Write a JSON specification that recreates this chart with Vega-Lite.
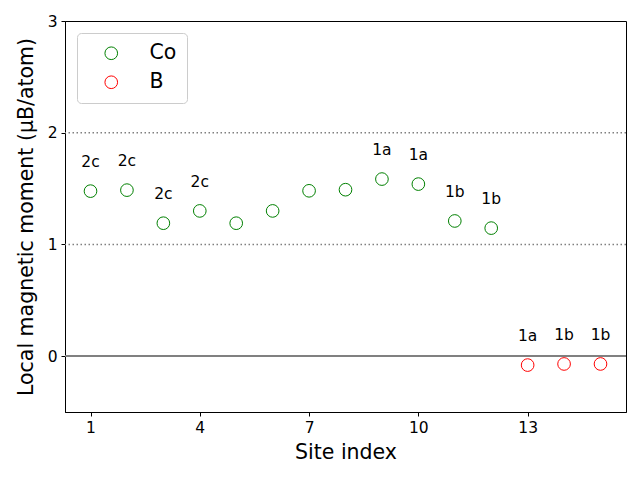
{
  "$schema": "https://vega.github.io/schema/vega-lite/v6.json",
  "width": 561,
  "height": 391,
  "autosize": {"type": "none"},
  "padding": {"left": 65, "top": 21, "right": 14, "bottom": 68},
  "background": "white",
  "config": {
    "font": "DejaVu Sans",
    "view": {"stroke": "black", "strokeWidth": 1},
    "axis": {"grid": false, "domainColor": "black", "tickColor": "black", "labelColor": "black", "titleColor": "black", "labelFontSize": 15.5, "titleFontSize": 20.5, "titleFontWeight": "normal", "tickSize": 4, "labelPadding": 4, "labelFont": "DejaVu Sans", "titleFont": "DejaVu Sans"}
  },
  "data": {
    "values": [
      {"site": 1, "moment": 1.477, "element": "Co", "label": "2c"},
      {"site": 2, "moment": 1.486, "element": "Co", "label": "2c"},
      {"site": 3, "moment": 1.19, "element": "Co", "label": "2c"},
      {"site": 4, "moment": 1.30, "element": "Co", "label": "2c"},
      {"site": 5, "moment": 1.19, "element": "Co", "label": ""},
      {"site": 6, "moment": 1.30, "element": "Co", "label": ""},
      {"site": 7, "moment": 1.48, "element": "Co", "label": ""},
      {"site": 8, "moment": 1.49, "element": "Co", "label": ""},
      {"site": 9, "moment": 1.585, "element": "Co", "label": "1a"},
      {"site": 10, "moment": 1.54, "element": "Co", "label": "1a"},
      {"site": 11, "moment": 1.21, "element": "Co", "label": "1b"},
      {"site": 12, "moment": 1.146, "element": "Co", "label": "1b"},
      {"site": 13, "moment": -0.08, "element": "B", "label": "1a"},
      {"site": 14, "moment": -0.07, "element": "B", "label": "1b"},
      {"site": 15, "moment": -0.07, "element": "B", "label": "1b"}
    ]
  },
  "layer": [
    {
      "mark": {"type": "rule", "color": "#808080", "strokeWidth": 1.5, "strokeDash": [1.5, 2.5]},
      "data": {"values": [{"v": 1}, {"v": 2}]},
      "encoding": {"y": {"field": "v", "type": "quantitative"}}
    },
    {
      "mark": {"type": "rule", "color": "#808080", "strokeWidth": 1.5},
      "encoding": {"y": {"datum": 0, "type": "quantitative"}}
    },
    {
      "mark": {"type": "point", "shape": "circle", "filled": false, "size": 160, "strokeWidth": 1, "opacity": 1},
      "encoding": {
        "x": {"field": "site", "type": "quantitative", "scale": {"domain": [0.3, 15.7], "nice": false, "zero": false},
              "axis": {"values": [1, 4, 7, 10, 13], "format": "d", "title": "Site index", "titlePadding": 7}},
        "y": {"field": "moment", "type": "quantitative", "scale": {"domain": [-0.5, 3], "nice": false},
              "axis": {"values": [0, 1, 2, 3], "format": "d", "title": "Local magnetic moment (μB/atom)", "titlePadding": 11}},
        "color": {"field": "element", "type": "nominal",
                  "scale": {"domain": ["Co", "B"], "range": ["#008000", "#ff0000"]},
                  "legend": {"title": null, "orient": "none", "legendX": 12, "legendY": 12, "symbolType": "circle", "symbolSize": 160, "symbolStrokeWidth": 1, "symbolFillColor": "transparent", "labelFontSize": 20.5, "labelFont": "DejaVu Sans", "labelColor": "black", "labelOffset": 28, "rowPadding": 8, "padding": 10, "strokeColor": "#cccccc", "cornerRadius": 4, "fillColor": "white", "symbolOffset": 14}}
      }
    },
    {
      "mark": {"type": "text", "fontSize": 15.5, "font": "DejaVu Sans", "color": "black", "baseline": "middle", "dy": -29},
      "encoding": {
        "x": {"field": "site", "type": "quantitative"},
        "y": {"field": "moment", "type": "quantitative"},
        "text": {"field": "label"}
      }
    }
  ]
}
